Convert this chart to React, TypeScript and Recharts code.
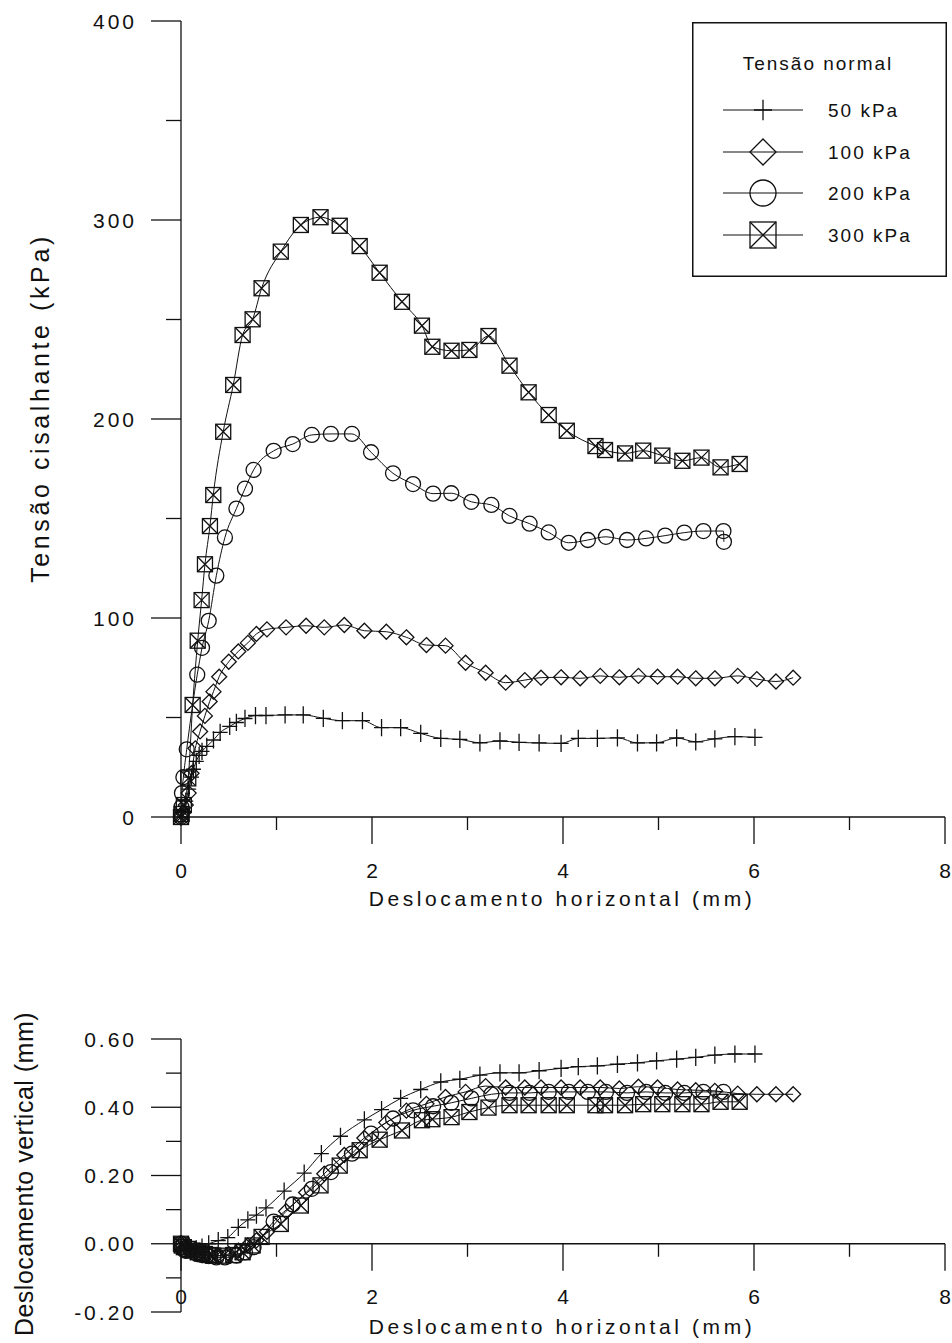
import { LineChart, Line, XAxis, YAxis, ReferenceLine, Legend, Label } from "recharts";

type Pt = { x: number; y: number };
type Shape = "plus" | "diamond" | "circle" | "square";

// Tensão cisalhante (kPa) x deslocamento horizontal (mm)
const shear50: Pt[] = [
  { x: 0, y: 0 }, { x: 0.02, y: 3 }, { x: 0.05, y: 8 }, { x: 0.08, y: 14 }, { x: 0.11, y: 20 },
  { x: 0.13, y: 24 }, { x: 0.16, y: 28 }, { x: 0.19, y: 31 }, { x: 0.22, y: 33 }, { x: 0.27, y: 35.5 },
  { x: 0.34, y: 38.7 }, { x: 0.41, y: 42.5 }, { x: 0.51, y: 45.5 }, { x: 0.58, y: 47.5 }, { x: 0.67, y: 49.5 },
  { x: 0.78, y: 51 }, { x: 0.89, y: 51 }, { x: 1.09, y: 51.3 }, { x: 1.28, y: 51.3 }, { x: 1.49, y: 49.6 },
  { x: 1.69, y: 48.4 }, { x: 1.9, y: 48.4 }, { x: 2.1, y: 44.9 }, { x: 2.3, y: 44.9 }, { x: 2.51, y: 42 },
  { x: 2.72, y: 39.5 }, { x: 2.92, y: 39 }, { x: 3.13, y: 37.3 }, { x: 3.34, y: 38.2 }, { x: 3.54, y: 37.5 },
  { x: 3.75, y: 37.2 }, { x: 3.98, y: 37 }, { x: 4.16, y: 39.5 }, { x: 4.36, y: 39.5 }, { x: 4.57, y: 39.8 },
  { x: 4.78, y: 37.2 }, { x: 4.98, y: 37.3 }, { x: 5.19, y: 39.7 }, { x: 5.39, y: 37.8 }, { x: 5.59, y: 39.3 },
  { x: 5.8, y: 40.4 }, { x: 6.01, y: 40 },
];

const shear100: Pt[] = [
  { x: 0, y: 0 }, { x: 0.02, y: 2 }, { x: 0.05, y: 6 }, { x: 0.08, y: 12 }, { x: 0.11, y: 22 },
  { x: 0.15, y: 34.5 }, { x: 0.2, y: 43 }, { x: 0.25, y: 50.8 }, { x: 0.3, y: 58 }, { x: 0.34, y: 63 },
  { x: 0.4, y: 70.5 }, { x: 0.5, y: 78 }, { x: 0.6, y: 83.2 }, { x: 0.7, y: 87.5 }, { x: 0.79, y: 92 },
  { x: 0.9, y: 94.3 }, { x: 1.1, y: 95.3 }, { x: 1.31, y: 96.1 }, { x: 1.5, y: 95.3 }, { x: 1.71, y: 96.5 },
  { x: 1.92, y: 93.6 }, { x: 2.15, y: 93.1 }, { x: 2.36, y: 90.3 }, { x: 2.57, y: 86.4 }, { x: 2.77, y: 86.1 },
  { x: 2.98, y: 77.5 }, { x: 3.19, y: 72.5 }, { x: 3.4, y: 67.5 }, { x: 3.6, y: 68.8 }, { x: 3.77, y: 70 },
  { x: 3.98, y: 70.2 }, { x: 4.18, y: 69.7 }, { x: 4.39, y: 70.9 }, { x: 4.59, y: 70.2 }, { x: 4.79, y: 70.9 },
  { x: 4.99, y: 70.5 }, { x: 5.2, y: 70.5 }, { x: 5.39, y: 69.7 }, { x: 5.59, y: 69.7 }, { x: 5.83, y: 70.9 },
  { x: 6.03, y: 69.3 }, { x: 6.23, y: 68.1 }, { x: 6.41, y: 70 },
];

const shear200: Pt[] = [
  { x: 0, y: 0 }, { x: 0.005, y: 5 }, { x: 0.01, y: 12 }, { x: 0.025, y: 20 }, { x: 0.06, y: 34 },
  { x: 0.17, y: 71.5 }, { x: 0.22, y: 85 }, { x: 0.29, y: 98.6 }, { x: 0.37, y: 121.3 }, { x: 0.46, y: 140.5 },
  { x: 0.58, y: 155 }, { x: 0.67, y: 165 }, { x: 0.76, y: 174.4 }, { x: 0.97, y: 184 }, { x: 1.17, y: 187.4 },
  { x: 1.37, y: 192 }, { x: 1.57, y: 192.5 }, { x: 1.79, y: 192.5 }, { x: 1.99, y: 183.3 }, { x: 2.22, y: 172.7 },
  { x: 2.43, y: 167.3 }, { x: 2.64, y: 162.5 }, { x: 2.83, y: 162.7 }, { x: 3.04, y: 158.4 }, { x: 3.25, y: 156.8 },
  { x: 3.44, y: 151.3 }, { x: 3.65, y: 147.4 }, { x: 3.85, y: 143 }, { x: 4.06, y: 137.8 }, { x: 4.26, y: 139.2 },
  { x: 4.45, y: 140.8 }, { x: 4.67, y: 139.2 }, { x: 4.87, y: 140 }, { x: 5.07, y: 141.4 }, { x: 5.27, y: 142.9 },
  { x: 5.47, y: 143.7 }, { x: 5.68, y: 143.7 }, { x: 5.685, y: 138.3 },
];

const shear300: Pt[] = [
  { x: 0, y: 0 }, { x: 0.007, y: 1.5 }, { x: 0.03, y: 6 }, { x: 0.076, y: 19.4 }, { x: 0.122, y: 56.3 },
  { x: 0.175, y: 88.6 }, { x: 0.216, y: 109 }, { x: 0.251, y: 127 }, { x: 0.303, y: 146.2 }, { x: 0.338, y: 161.8 },
  { x: 0.442, y: 193.6 }, { x: 0.547, y: 217.1 }, { x: 0.645, y: 242.2 }, { x: 0.75, y: 250.1 }, { x: 0.844, y: 265.7 },
  { x: 1.045, y: 284.1 }, { x: 1.255, y: 297.5 }, { x: 1.461, y: 301.4 }, { x: 1.662, y: 297.1 }, { x: 1.871, y: 286.9 },
  { x: 2.08, y: 273.5 }, { x: 2.314, y: 258.9 }, { x: 2.523, y: 246.9 }, { x: 2.632, y: 236.3 }, { x: 2.833, y: 234.3 },
  { x: 3.02, y: 234.7 }, { x: 3.22, y: 241.7 }, { x: 3.44, y: 226.8 }, { x: 3.64, y: 213.4 }, { x: 3.85, y: 202 },
  { x: 4.04, y: 194.1 }, { x: 4.34, y: 186.4 }, { x: 4.44, y: 184.4 }, { x: 4.65, y: 182.7 }, { x: 4.84, y: 184.1 },
  { x: 5.04, y: 181.6 }, { x: 5.25, y: 179 }, { x: 5.45, y: 180.6 }, { x: 5.65, y: 175.7 }, { x: 5.85, y: 177.4 },
];

// Deslocamento vertical (mm) x deslocamento horizontal (mm)
const vert50: Pt[] = [
  { x: 0, y: 0 }, { x: 0.05, y: -0.01 }, { x: 0.1, y: -0.015 }, { x: 0.16, y: -0.015 }, { x: 0.22, y: -0.01 },
  { x: 0.29, y: 0 }, { x: 0.39, y: 0.009 }, { x: 0.49, y: 0.018 }, { x: 0.6, y: 0.048 }, { x: 0.7, y: 0.07 },
  { x: 0.79, y: 0.084 }, { x: 0.89, y: 0.105 }, { x: 1.08, y: 0.154 }, { x: 1.29, y: 0.207 }, { x: 1.47, y: 0.264 },
  { x: 1.67, y: 0.315 }, { x: 1.92, y: 0.363 }, { x: 2.1, y: 0.393 }, { x: 2.3, y: 0.426 }, { x: 2.51, y: 0.452 },
  { x: 2.72, y: 0.474 }, { x: 2.92, y: 0.482 }, { x: 3.13, y: 0.494 }, { x: 3.34, y: 0.501 }, { x: 3.54, y: 0.501 },
  { x: 3.75, y: 0.507 }, { x: 3.98, y: 0.514 }, { x: 4.16, y: 0.519 }, { x: 4.36, y: 0.521 }, { x: 4.57, y: 0.526 },
  { x: 4.78, y: 0.53 }, { x: 4.98, y: 0.536 }, { x: 5.19, y: 0.541 }, { x: 5.39, y: 0.546 }, { x: 5.59, y: 0.553 },
  { x: 5.8, y: 0.556 }, { x: 6.01, y: 0.556 },
];

const vert100: Pt[] = [
  { x: 0, y: 0 }, { x: 0.05, y: -0.01 }, { x: 0.1, y: -0.02 }, { x: 0.15, y: -0.025 }, { x: 0.2, y: -0.03 },
  { x: 0.25, y: -0.033 }, { x: 0.3, y: -0.035 }, { x: 0.4, y: -0.035 }, { x: 0.5, y: -0.03 }, { x: 0.6, y: -0.02 },
  { x: 0.7, y: -0.005 }, { x: 0.79, y: 0.01 }, { x: 0.9, y: 0.035 }, { x: 1.1, y: 0.095 }, { x: 1.31, y: 0.15 },
  { x: 1.5, y: 0.205 }, { x: 1.71, y: 0.26 }, { x: 1.92, y: 0.31 }, { x: 2.15, y: 0.355 }, { x: 2.36, y: 0.39 },
  { x: 2.57, y: 0.41 }, { x: 2.77, y: 0.43 }, { x: 2.98, y: 0.445 }, { x: 3.19, y: 0.462 }, { x: 3.4, y: 0.458 },
  { x: 3.6, y: 0.458 }, { x: 3.77, y: 0.458 }, { x: 3.98, y: 0.458 }, { x: 4.18, y: 0.458 }, { x: 4.39, y: 0.458 },
  { x: 4.59, y: 0.455 }, { x: 4.79, y: 0.46 }, { x: 4.99, y: 0.458 }, { x: 5.2, y: 0.452 }, { x: 5.39, y: 0.45 },
  { x: 5.59, y: 0.448 }, { x: 5.83, y: 0.44 }, { x: 6.03, y: 0.438 }, { x: 6.23, y: 0.438 }, { x: 6.41, y: 0.438 },
];

const vert200: Pt[] = [
  { x: 0, y: 0 }, { x: 0.01, y: -0.01 }, { x: 0.024, y: -0.015 }, { x: 0.04, y: -0.02 }, { x: 0.06, y: -0.02 },
  { x: 0.17, y: -0.03 }, { x: 0.22, y: -0.033 }, { x: 0.29, y: -0.036 }, { x: 0.37, y: -0.04 }, { x: 0.46, y: -0.04 },
  { x: 0.58, y: -0.035 }, { x: 0.67, y: -0.025 }, { x: 0.76, y: -0.01 }, { x: 0.97, y: 0.065 }, { x: 1.17, y: 0.115 },
  { x: 1.37, y: 0.161 }, { x: 1.57, y: 0.21 }, { x: 1.79, y: 0.264 }, { x: 1.99, y: 0.323 }, { x: 2.22, y: 0.367 },
  { x: 2.43, y: 0.391 }, { x: 2.64, y: 0.403 }, { x: 2.83, y: 0.413 }, { x: 3.04, y: 0.426 }, { x: 3.25, y: 0.438 },
  { x: 3.44, y: 0.442 }, { x: 3.65, y: 0.442 }, { x: 3.85, y: 0.445 }, { x: 4.06, y: 0.445 }, { x: 4.26, y: 0.445 },
  { x: 4.45, y: 0.445 }, { x: 4.67, y: 0.442 }, { x: 4.87, y: 0.445 }, { x: 5.07, y: 0.442 }, { x: 5.27, y: 0.442 },
  { x: 5.47, y: 0.445 }, { x: 5.68, y: 0.445 },
];

const vert300: Pt[] = [
  { x: 0, y: 0 }, { x: 0.007, y: -0.005 }, { x: 0.03, y: -0.01 }, { x: 0.076, y: -0.015 }, { x: 0.122, y: -0.02 },
  { x: 0.175, y: -0.025 }, { x: 0.216, y: -0.028 }, { x: 0.251, y: -0.03 }, { x: 0.303, y: -0.033 }, { x: 0.338, y: -0.035 },
  { x: 0.442, y: -0.035 }, { x: 0.547, y: -0.033 }, { x: 0.645, y: -0.025 }, { x: 0.75, y: -0.005 }, { x: 0.844, y: 0.02 },
  { x: 1.045, y: 0.058 }, { x: 1.255, y: 0.112 }, { x: 1.461, y: 0.171 }, { x: 1.662, y: 0.229 }, { x: 1.871, y: 0.274 },
  { x: 2.08, y: 0.305 }, { x: 2.314, y: 0.332 }, { x: 2.523, y: 0.362 }, { x: 2.632, y: 0.365 }, { x: 2.833, y: 0.371 },
  { x: 3.02, y: 0.386 }, { x: 3.22, y: 0.399 }, { x: 3.44, y: 0.406 }, { x: 3.64, y: 0.406 }, { x: 3.85, y: 0.406 },
  { x: 4.04, y: 0.406 }, { x: 4.34, y: 0.406 }, { x: 4.44, y: 0.406 }, { x: 4.65, y: 0.406 }, { x: 4.84, y: 0.409 },
  { x: 5.04, y: 0.409 }, { x: 5.25, y: 0.409 }, { x: 5.45, y: 0.409 }, { x: 5.65, y: 0.416 }, { x: 5.85, y: 0.416 },
];

const X_TICKS = [0, 1, 2, 3, 4, 5, 6, 7, 8];
const SHEAR_TICKS = [0, 50, 100, 150, 200, 250, 300, 350, 400];
const VERT_TICKS = [-0.2, -0.1, 0, 0.1, 0.2, 0.3, 0.4, 0.5, 0.6];

const SERIES: { name: string; shape: Shape; shear: Pt[]; vert: Pt[] }[] = [
  { name: "50 kPa", shape: "plus", shear: shear50, vert: vert50 },
  { name: "100 kPa", shape: "diamond", shear: shear100, vert: vert100 },
  { name: "200 kPa", shape: "circle", shear: shear200, vert: vert200 },
  { name: "300 kPa", shape: "square", shear: shear300, vert: vert300 },
];

const FONT = '"Liberation Sans", Arial, sans-serif';
const INK = "#111";

const W = 952;
const TOP_H = 930;
const TOP_MARGIN = { top: 21, right: 7, left: 81, bottom: 53 };
const BOT_H = 413;
const BOT_MARGIN = { top: 109, right: 7, left: 81, bottom: 0 };
const Y_AXIS_W = 100;
const TOP_X_AXIS_H = 60;
const BOT_X_AXIS_H = 31;

// posição (px) da linha y = 0 no gráfico de baixo
const BOT_PLOT_H = BOT_H - BOT_MARGIN.top - BOT_MARGIN.bottom - BOT_X_AXIS_H;
const BOT_ZERO_Y = BOT_MARGIN.top + (BOT_PLOT_H * 0.6) / 0.8;

function Marker({ shape, cx, cy, s }: { shape: Shape; cx: number; cy: number; s: number }) {
  const st = { fill: "none", stroke: INK, strokeWidth: 1.3 };
  if (shape === "plus") {
    return <path d={`M${cx - s},${cy}H${cx + s}M${cx},${cy - s * 1.15}V${cy + s * 1.15}`} {...st} />;
  }
  if (shape === "diamond") {
    return <path d={`M${cx},${cy - s}L${cx + s},${cy}L${cx},${cy + s}L${cx - s},${cy}Z`} {...st} />;
  }
  if (shape === "circle") {
    return <circle cx={cx} cy={cy} r={s} {...st} />;
  }
  return (
    <g {...st}>
      <rect x={cx - s} y={cy - s} width={s * 2} height={s * 2} />
      <path d={`M${cx - s},${cy - s}L${cx + s},${cy + s}M${cx + s},${cy - s}L${cx - s},${cy + s}`} />
    </g>
  );
}

const dotFor = (shape: Shape) => (p: any) => {
  if (typeof p.cx !== "number" || typeof p.cy !== "number") return <g key={p.index} />;
  return (
    <g key={p.index}>
      <Marker shape={shape} cx={p.cx} cy={p.cy} s={7.5} />
    </g>
  );
};

const tickText = { fontFamily: FONT, fontSize: 21, letterSpacing: 3, fill: INK };

function makeYTick(isMajor: (v: number) => boolean, fmt: (v: number) => string) {
  return (props: any) => {
    const { x, y, payload } = props;
    const major = isMajor(payload.value);
    return (
      <g>
        <line x1={x - (major ? 30 : 15)} x2={x} y1={y} y2={y} stroke={INK} strokeWidth={1.3} />
        {major && (
          <text x={x - 44} y={y} dy="0.36em" textAnchor="end" {...tickText}>
            {fmt(payload.value)}
          </text>
        )}
      </g>
    );
  };
}

function makeXTick(axisY: (y: number) => number) {
  return (props: any) => {
    const { x, payload } = props;
    const y = axisY(props.y);
    const major = payload.value % 2 === 0;
    return (
      <g>
        <line x1={x} x2={x} y1={y} y2={y + (major ? 27 : 13)} stroke={INK} strokeWidth={1.3} />
        {major && (
          <text x={x} y={y + 53} dy="0.36em" textAnchor="middle" {...tickText} letterSpacing={0}>
            {payload.value}
          </text>
        )}
      </g>
    );
  };
}

const shearYTick = makeYTick((v) => v % 100 === 0, (v) => String(v));
const vertYTick = makeYTick((v) => Math.round(v * 10) % 2 === 0, (v) => v.toFixed(2));
const topXTick = makeXTick((y) => y);
const botXTick = makeXTick(() => BOT_ZERO_Y);

const titleStyle = { fontFamily: FONT, fontSize: 21, letterSpacing: 3.6, fill: INK };

function HTitle({ cx, cy }: { cx: number; cy: number }) {
  return (
    <text x={cx} y={cy} dy="0.36em" textAnchor="middle" {...titleStyle}>
      Deslocamento horizontal (mm)
    </text>
  );
}

function VTitle({ cx, cy, text, size, spacing }: { cx: number; cy: number; text: string; size: number; spacing: number }) {
  return (
    <text
      x={cx}
      y={cy}
      dy="0.36em"
      textAnchor="middle"
      transform={`rotate(-90, ${cx}, ${cy})`}
      {...titleStyle}
      fontSize={size}
      letterSpacing={spacing}
    >
      {text}
    </text>
  );
}

function LegendBox() {
  const rows = [88, 130, 171, 213];
  return (
    <svg width={255} height={255} style={{ display: "block" }}>
      <rect x={0.75} y={0.75} width={253.5} height={253.5} fill="#fff" stroke={INK} strokeWidth={1.5} />
      <text x={126} y={41} dy="0.36em" textAnchor="middle" fontFamily={FONT} fontSize={19} letterSpacing={2} fill={INK}>
        Tensão normal
      </text>
      {SERIES.map((s, i) => (
        <g key={s.name}>
          <line x1={31} x2={111} y1={rows[i]} y2={rows[i]} stroke={INK} strokeWidth={1.2} />
          <Marker shape={s.shape} cx={71} cy={rows[i]} s={s.shape === "plus" ? 9 : 13} />
          <text x={136} y={rows[i]} dy="0.36em" fontFamily={FONT} fontSize={19} letterSpacing={2} fill={INK}>
            {s.name}
          </text>
        </g>
      ))}
    </svg>
  );
}

export default function App() {
  return (
    <div style={{ position: "absolute", left: 0, top: 0, width: W, height: TOP_H + BOT_H, background: "#fff" }}>
      <div style={{ position: "absolute", left: 0, top: 0 }}>
        <LineChart width={W} height={TOP_H} margin={TOP_MARGIN}>
          <XAxis
            dataKey="x"
            type="number"
            domain={[0, 8]}
            ticks={X_TICKS}
            height={TOP_X_AXIS_H}
            tickSize={0}
            tickMargin={0}
            tickLine={false}
            axisLine={{ stroke: INK, strokeWidth: 1.3 }}
            tick={topXTick}
            interval={0}
          >
            <Label content={() => <HTitle cx={562} cy={898} />} />
          </XAxis>
          <YAxis
            type="number"
            domain={[0, 400]}
            ticks={SHEAR_TICKS}
            width={Y_AXIS_W}
            tickSize={0}
            tickMargin={0}
            tickLine={false}
            axisLine={{ stroke: INK, strokeWidth: 1.3 }}
            tick={shearYTick}
            interval={0}
          >
            <Label
              content={() => <VTitle cx={40} cy={408} text="Tensão cisalhante (kPa)" size={25} spacing={3.6} />}
            />
          </YAxis>
          {SERIES.map((s) => (
            <Line
              key={s.name}
              name={s.name}
              data={s.shear}
              dataKey="y"
              type="monotone"
              stroke={INK}
              strokeWidth={1}
              dot={dotFor(s.shape)}
              activeDot={false}
              isAnimationActive={false}
            />
          ))}
          <Legend
            layout="vertical"
            align="center"
            verticalAlign="middle"
            wrapperStyle={{ left: 692, top: 22, width: 255, height: 255 }}
            content={() => <LegendBox />}
          />
        </LineChart>
      </div>
      <div style={{ position: "absolute", left: 0, top: TOP_H }}>
        <LineChart width={W} height={BOT_H} margin={BOT_MARGIN}>
          <XAxis
            dataKey="x"
            type="number"
            domain={[0, 8]}
            ticks={X_TICKS}
            height={BOT_X_AXIS_H}
            tickSize={0}
            tickMargin={0}
            tickLine={false}
            axisLine={false}
            tick={botXTick}
            interval={0}
          >
            <Label content={() => <HTitle cx={562} cy={396} />} />
          </XAxis>
          <YAxis
            type="number"
            domain={[-0.2, 0.6]}
            ticks={VERT_TICKS}
            width={Y_AXIS_W}
            tickSize={0}
            tickMargin={0}
            tickLine={false}
            axisLine={{ stroke: INK, strokeWidth: 1.3 }}
            tick={vertYTick}
            interval={0}
          >
            <Label
              content={() => <VTitle cx={24} cy={244} text="Deslocamento vertical (mm)" size={25} spacing={0.5} />}
            />
          </YAxis>
          <ReferenceLine y={0} stroke={INK} strokeWidth={1.3} />
          {SERIES.map((s) => (
            <Line
              key={s.name}
              name={s.name}
              data={s.vert}
              dataKey="y"
              type="monotone"
              stroke={INK}
              strokeWidth={1}
              dot={dotFor(s.shape)}
              activeDot={false}
              isAnimationActive={false}
            />
          ))}
        </LineChart>
      </div>
    </div>
  );
}
